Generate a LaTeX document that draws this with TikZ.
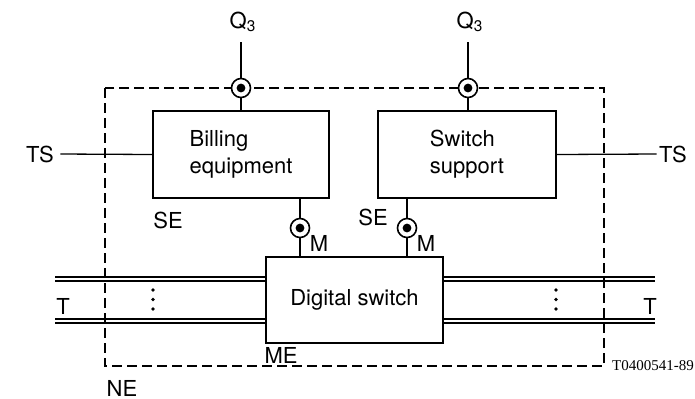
\documentclass[tikz,border=0pt]{standalone}
\usepackage{fontspec}
\setmainfont{TeX Gyre Heros}
\newfontfamily\refnofont{Liberation Serif}
\usetikzlibrary{positioning}

\begin{document}
\begin{tikzpicture}[
  x=0.5pt, y=-0.5pt,
  line width=0.65pt,
  font=\fontsize{11}{13.5}\selectfont,
  box/.style={draw, align=left, inner sep=0pt},
  port/.style={draw, circle, minimum size=9.5pt, inner sep=0pt, fill=white, line width=0.8pt},
  lbl/.style={inner sep=1pt},
  trunk/.style={double, double distance=1.4pt},
  nebox/.style={dash pattern=on 5pt off 2.5pt},
  dot/.style={fill},
]
  \useasboundingbox (0,0) rectangle (695,398);

  % ---------------- trunks ----------------
  \node[box, minimum width=88.5pt, minimum height=43pt, align=center] (dsw) at (354.5,300) {Digital switch};
  \coordinate (tl1) at (55,279);
  \coordinate (tl2) at (55,321);
  \coordinate (tr1) at (655,279);
  \coordinate (tr2) at (655,321);
  \draw[trunk] (tl1) -- (tl1 -| dsw.west);
  \draw[trunk] (tl2) -- (tl2 -| dsw.west);
  \draw[trunk] (dsw.east |- tr1) -- (tr1);
  \draw[trunk] (dsw.east |- tr2) -- (tr2);
  \foreach \y in {290,299.5,309} {
    \fill[dot] (153,\y) circle (0.9pt);
    \fill[dot] (556,\y) circle (0.9pt);
  }
  \node[lbl] (tl) at (63,306) {T};
  \node[lbl] (tr) at (650,306) {T};

  % ---------------- network element ----------------
  \draw[nebox] (105,88) rectangle (604,366);
  \node[lbl, anchor=base] (ne) at (122,396) {NE};
  \node[lbl] (me) at (281,355) {ME};
  \node[lbl, font=\refnofont\fontsize{7.5}{9}\selectfont] (figno) at (653,366) {T0400541-89};

  % ---------------- support equipment ----------------
  \node[box, minimum width=88pt, minimum height=43.5pt] (bill) at (241,154.5) {Billing\\equipment};
  \node[box, minimum width=89pt, minimum height=43.5pt] (supp) at (467,154.5) {Switch\\support};
  \node[lbl] (sel) at (168,220) {SE};
  \node[lbl] (ser) at (373,217) {SE};

  % Q3 interfaces
  \node[port] (q3l) at (241,88) {};
  \node[port] (q3r) at (468,88) {};
  \coordinate (q3lt) at (241,42);
  \coordinate (q3rt) at (468,42);
  \node[lbl] (lq3l) at (243,22) {Q\textsubscript{3}};
  \node[lbl] (lq3r) at (470,22) {Q\textsubscript{3}};
  \draw (q3lt) -- (q3l);
  \draw (q3rt) -- (q3r);
  \draw (q3l) -- (bill.north -| q3l);
  \draw (q3r) -- (supp.north -| q3r);

  % M interfaces
  \node[port] (ml) at (300,228) {};
  \node[port] (mr) at (407,228) {};
  \node[lbl, below right=-1pt and 0pt of ml] (lml) {M};
  \node[lbl, below right=-1pt and 0pt of mr] (lmr) {M};
  \draw (bill.south -| ml) -- (ml) -- (dsw.north -| ml);
  \draw (supp.south -| mr) -- (mr) -- (dsw.north -| mr);

  % centre dots of the ports
  \foreach \p in {q3l,q3r,ml,mr}
    \fill[dot] (\p.center) circle (2.2pt);

  % TS
  \node[lbl] (tsl) at (40,154) {TS};
  \node[lbl] (tsr) at (673,154) {TS};
  \draw (tsl.east) ++(4,0) coordinate (tsle) (tsle) -- (bill.west);
  \draw (supp.east) -- (tsr.west);
\end{tikzpicture}
\end{document}
